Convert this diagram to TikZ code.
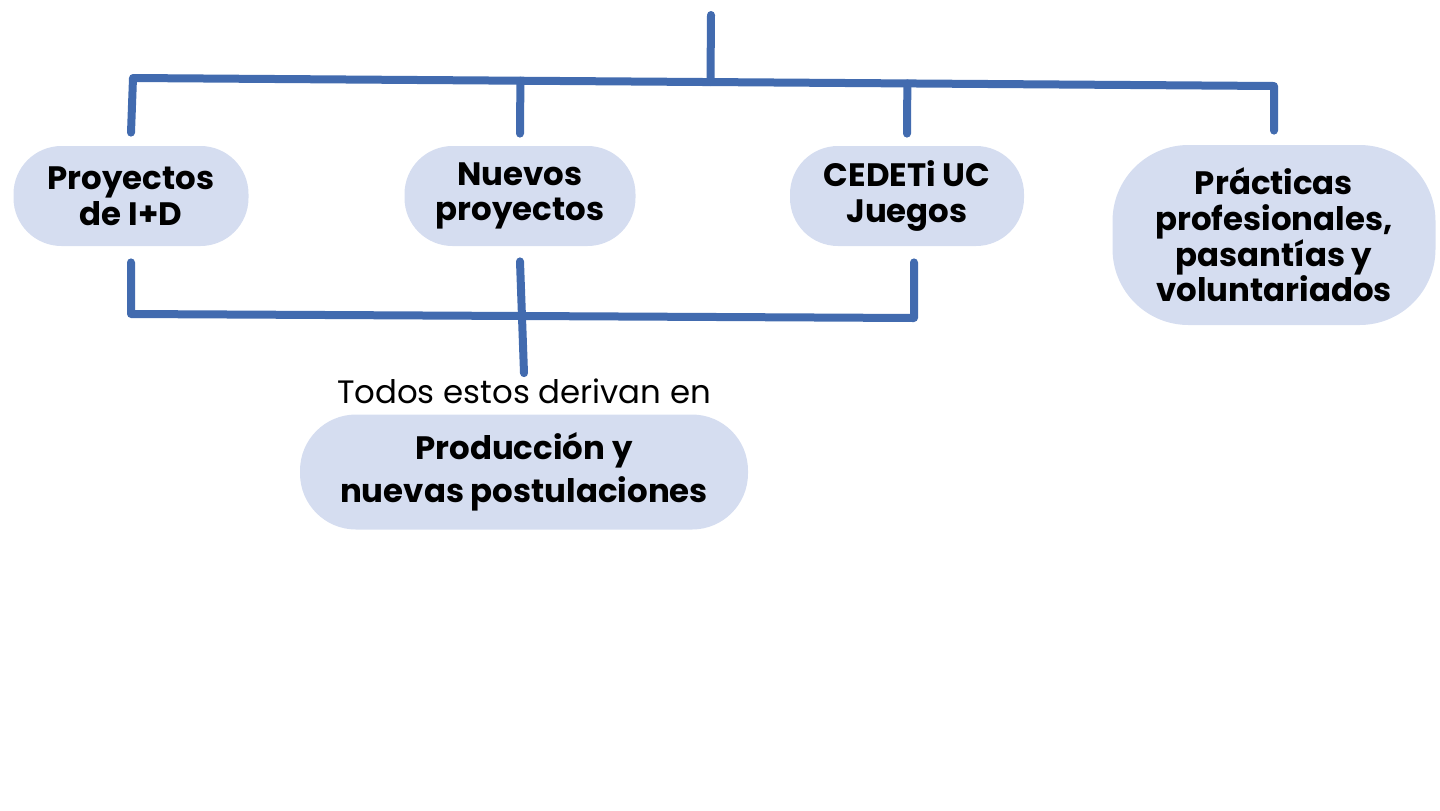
\documentclass[tikz,border=0pt]{standalone}
\usepackage{fontspec}
\setmainfont{Poppins}
\usetikzlibrary{positioning}
\usetikzlibrary{calc}
\definecolor{linkblue}{HTML}{426BAF}
\definecolor{blobfill}{HTML}{D5DDF0}
\tikzset{blob/.style = {fill=blobfill, rounded corners=24pt, align=center, inner sep=0pt,
                        font=\bfseries\fontsize{16.2}{17.8}\selectfont},
         link/.style = {draw=linkblue, line width=4pt, line cap=round, line join=round}}

\begin{document}
\begin{tikzpicture}[x=0.5pt, y=-0.5pt]
      \useasboundingbox (0, 0) rectangle (1440, 810);

      \node [blob, minimum width=117.5pt, minimum height=50pt] (idi) at (131, 196) {Proyectos\\de I+D};
      \node [blob, minimum width=115.5pt, minimum height=50pt] (nuevos) at (520, 196) {Nuevos\\proyectos};
      \node [blob, minimum width=117pt, minimum height=50pt] (cedeti) at (907, 196) {CEDETi UC\\Juegos};
      \node [blob, rounded corners=38pt, minimum width=161.5pt, minimum height=90pt] (prac) at (1274, 235) {Prácticas\\profesionales,\\pasantías y\\voluntariados};
      \node [font=\fontsize{16.2}{18}\selectfont, inner sep=0pt] (todos) at (524, 391) {Todos estos derivan en};
      \node [blob, rounded corners=28pt, minimum width=224pt, minimum height=57.5pt,
             font=\bfseries\fontsize{16.2}{21.5}\selectfont] (prod) at (524, 472) {Producción y\\nuevas postulaciones};

      \coordinate (root) at (711, 15);
      \coordinate (barL) at (133, 78);
      \coordinate (barR) at (1274, 86);
      \coordinate (lowL) at (131, 314);
      \coordinate (lowR) at (914, 318);

      \draw [link] (root) -- ($(barL)!(root)!(barR)$);
      \draw [link] ($(idi.north) + (0, -13)$) -- (barL) -- (barR) -- ($(prac.north) + (0, -14)$);
      \foreach \n in {nuevos, cedeti}
        \draw [link] ($(barL)!(\n.north)!(barR)$) -- ($(\n.north) + (0, -12)$);

      \draw [link] ($(idi.south) + (0, 16)$) -- (lowL) -- (lowR) -- ($(cedeti.south) + (7, 16)$);
      \draw [link] ($(nuevos.south) + (0, 15)$) -- ($(todos.north) + (0, -5)$);
    \end{tikzpicture}
\end{document}
